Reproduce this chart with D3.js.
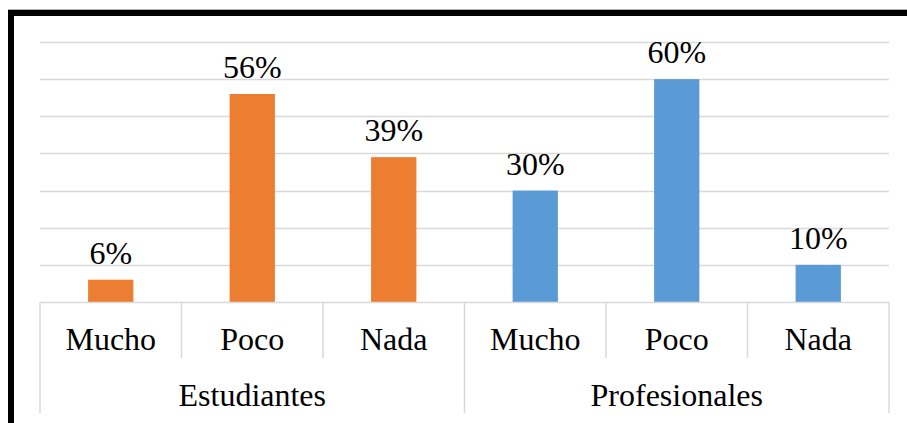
<!DOCTYPE html>
<html>
<head>
<meta charset="utf-8">
<script src="https://cdn.jsdelivr.net/npm/d3@7"></script>
<style>
html,body{margin:0;padding:0;background:#fff;}
svg{display:block;}
svg text{font-family:"Liberation Serif","Times New Roman",Times,serif;}
</style>
</head>
<body>
<svg id="chart" width="907" height="423"></svg>
<script>
const groups = ["Estudiantes", "Profesionales"];
const categories = ["Mucho", "Poco", "Nada"];
const estudiantesValues = [6, 56, 39];
const profesionalesValues = [30, 60, 10];
const yTicks = [0, 10, 20, 30, 40, 50, 60, 70];
const groupColors = ["#ED7D31", "#5B9BD5"];

const rows = [];
[estudiantesValues, profesionalesValues].forEach((vals, gi) => {
  categories.forEach((c, ci) => rows.push({group: groups[gi], gi, cat: c, key: groups[gi] + "|" + c, value: vals[ci]}));
});

const svg = d3.select("#chart");
const W = 907, H = 423;
const left = 40, right = 889, base = 302, top70 = 42;
const fs = 32;

// frame
svg.append("line").attr("x1", 8).attr("x2", W).attr("y1", 9.5).attr("y2", 9.5).attr("stroke", "#b0b0b0").attr("stroke-width", 1);
svg.append("rect").attr("x", 8).attr("y", 10).attr("width", W - 8).attr("height", 6).attr("fill", "#000");
svg.append("rect").attr("x", 8).attr("y", 10).attr("width", 6).attr("height", H - 10).attr("fill", "#000");

const x = d3.scaleBand().domain(rows.map(d => d.key)).range([left, right]).paddingInner(0.68).paddingOuter(0.34);
const xOuter = d3.scaleBand().domain(rows.map(d => d.key)).range([left, right]);
const y = d3.scaleLinear().domain([0, 70]).range([base, top70]);

// gridlines
svg.append("g").selectAll("line").data(yTicks.slice(1)).join("line")
  .attr("x1", left).attr("x2", right)
  .attr("y1", d => Math.round(y(d)) + 0.5).attr("y2", d => Math.round(y(d)) + 0.5)
  .attr("stroke", "#d9d9d9").attr("stroke-width", 1.5);

// bars
svg.append("g").selectAll("rect").data(rows).join("rect")
  .attr("x", d => x(d.key)).attr("width", x.bandwidth())
  .attr("y", d => y(d.value)).attr("height", d => y(0) - y(d.value))
  .attr("fill", d => groupColors[d.gi]);

// data labels
svg.append("g").selectAll("text").data(rows).join("text")
  .attr("x", d => x(d.key) + x.bandwidth() / 2)
  .attr("y", d => y(d.value) - 16)
  .attr("text-anchor", "middle").attr("font-size", fs)
  .attr("fill", "#000").text(d => d.value + "%");

// baseline
svg.append("line").attr("x1", left).attr("x2", right).attr("y1", base + 0.5).attr("y2", base + 0.5)
  .attr("stroke", "#d9d9d9").attr("stroke-width", 1.5);

// category dividers
const bounds = rows.map(d => xOuter(d.key)).concat([right]);
svg.append("g").selectAll("line").data(bounds).join("line")
  .attr("x1", d => d).attr("x2", d => d)
  .attr("y1", base)
  .attr("y2", (d, i) => (i % 3 === 0) ? 413 : 358)
  .attr("stroke", "#d9d9d9").attr("stroke-width", 1.5);

// category labels
svg.append("g").selectAll("text").data(rows).join("text")
  .attr("x", d => xOuter(d.key) + xOuter.bandwidth() / 2)
  .attr("y", 350)
  .attr("text-anchor", "middle").attr("font-size", fs)
  .attr("fill", "#000").text(d => d.cat);

// group labels
svg.append("g").selectAll("text").data(groups).join("text")
  .attr("x", (g, i) => (xOuter(rows[i * 3].key) + xOuter(rows[i * 3 + 2].key) + xOuter.bandwidth()) / 2)
  .attr("y", 406)
  .attr("text-anchor", "middle").attr("font-size", fs)
  .attr("fill", "#000").text(g => g);
</script>
</body>
</html>
